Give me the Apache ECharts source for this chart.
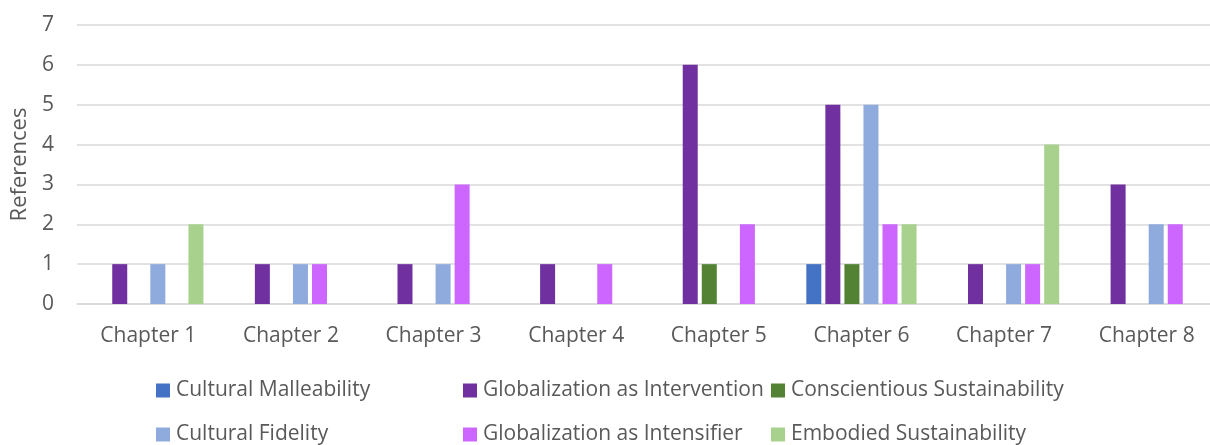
<!DOCTYPE html>
<html>
<head>
<meta charset="utf-8">
<script src="https://cdn.jsdelivr.net/npm/echarts@6/dist/echarts.min.js"></script>
<style>
  html, body { margin: 0; padding: 0; background: #ffffff; }
  #chart { width: 1210px; height: 445px; }
</style>
</head>
<body>
<div id="chart"></div>
<script>
// Chapters on the category axis
const chapters = ['Chapter 1', 'Chapter 2', 'Chapter 3', 'Chapter 4', 'Chapter 5', 'Chapter 6', 'Chapter 7', 'Chapter 8'];

// Number of references per theme, one value per chapter
const culturalMalleability       = [0, 0, 0, 0, 0, 1, 0, 0];
const globalizationIntervention  = [1, 1, 1, 1, 6, 5, 1, 3];
const conscientiousSustain       = [0, 0, 0, 0, 1, 1, 0, 0];
const culturalFidelity           = [1, 1, 1, 0, 0, 5, 1, 2];
const globalizationIntensifier   = [0, 1, 3, 1, 2, 2, 1, 2];
const embodiedSustain            = [2, 0, 0, 0, 0, 2, 4, 0];

const seriesNames = [
  'Cultural Malleability',
  'Globalization as Intervention',
  'Conscientious Sustainability',
  'Cultural Fidelity',
  'Globalization as Intensifier',
  'Embodied Sustainability'
];
const seriesValues = [
  culturalMalleability, globalizationIntervention, conscientiousSustain,
  culturalFidelity, globalizationIntensifier, embodiedSustain
];
const seriesColors = ['#4472C4', '#7030A0', '#548235', '#8FAADC', '#CC66FF', '#A9D18E'];

const FONT = '"Open Sans", "DejaVu Sans", sans-serif';
const TEXT = '#595959';
const FS = 21;

// Legend laid out as a 3 x 2 table under the plot
const legendSpots = [
  { left: 156, top: 380 },
  { left: 463, top: 380 },
  { left: 771, top: 380 },
  { left: 156, top: 424 },
  { left: 463, top: 424 },
  { left: 771, top: 424 }
];
const legends = seriesNames.map((name, i) => ({
  data: [name],
  left: legendSpots[i].left,
  top: legendSpots[i].top,
  padding: 0,
  icon: 'rect',
  itemWidth: 14,
  itemHeight: 14,
  itemGap: 0,
  selectedMode: false,
  textStyle: { fontFamily: FONT, fontSize: FS, color: TEXT, lineHeight: 20, padding: [0, 0, 0, 1] }
}));

const chart = echarts.init(document.getElementById('chart'), null, { renderer: 'canvas' });
chart.setOption({
  backgroundColor: '#ffffff',
  animation: false,
  legend: legends,
  grid: {
    left: 77, top: 25, width: 1141, height: 279,
    containLabel: false,
    outerBoundsMode: 'none'
  },
  xAxis: {
    type: 'category',
    data: chapters,
    axisTick: { show: false },
    axisLine: { lineStyle: { color: '#D9D9D9', width: 1.5 } },
    axisLabel: { fontFamily: FONT, fontSize: FS, color: TEXT, margin: 22 }
  },
  yAxis: {
    type: 'value',
    min: 0,
    max: 7,
    interval: 1,
    name: 'References',
    nameLocation: 'middle',
    nameGap: 46,
    nameMoveOverlap: false,
    nameTextStyle: { fontFamily: FONT, fontSize: 22, color: TEXT },
    axisLine: { show: false },
    axisTick: { show: false },
    axisLabel: { fontFamily: FONT, fontSize: FS, color: TEXT, margin: 23 },
    splitLine: { lineStyle: { color: '#D9D9D9', width: 1.5 } }
  },
  series: seriesNames.map((name, i) => ({
    name: name,
    type: 'bar',
    data: seriesValues[i],
    barWidth: 15,
    barGap: '27%',
    itemStyle: { color: seriesColors[i] }
  }))
});
</script>
</body>
</html>
